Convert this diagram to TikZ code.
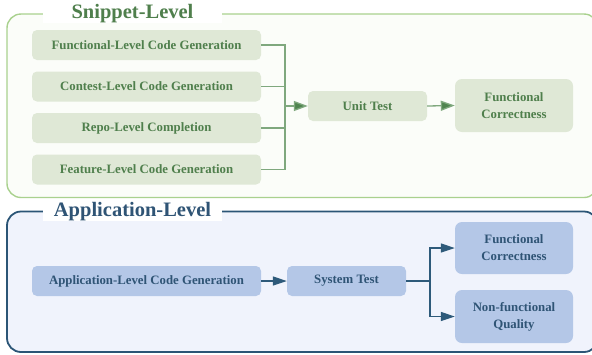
\documentclass[tikz,border=0pt]{standalone}
\usepackage{fontspec}
\newfontfamily\tnrb{LiberationSerif}[Extension=.ttf, UprightFont=*-Bold]
\usetikzlibrary{arrows.meta}
\definecolor{gborder}{HTML}{A9D18E}
\definecolor{gfill}{HTML}{FBFDF9}
\definecolor{gbox}{HTML}{DFE8D6}
\definecolor{gtext}{HTML}{4F7F4C}
\definecolor{gline}{HTML}{7FA87E}
\definecolor{gtip}{HTML}{4F844F}
\definecolor{bborder}{HTML}{2B5576}
\definecolor{bfill}{HTML}{F0F3FC}
\definecolor{bbox}{HTML}{B4C7E7}
\definecolor{btext}{HTML}{2F5475}
\definecolor{bline}{HTML}{2E5A7A}
\tikzset{
  gbx/.style={fill=gbox, rounded corners=5pt, text=gtext, font=\tnrb\fontsize{12.8}{17}\selectfont, align=center, inner sep=0pt},
  bbx/.style={fill=bbox, rounded corners=5pt, text=btext, font=\tnrb\fontsize{12.8}{17}\selectfont, align=center, inner sep=0pt},
  gconn/.style={draw=gline, line width=1.3pt},
  garrow/.style={draw=gline, line width=1.3pt, -{Triangle[length=14pt,width=10pt,fill=gtip]}},
  bconn/.style={draw=bline, line width=1.2pt},
  barrow/.style={draw=bline, line width=1.2pt, -{Triangle[length=14pt,width=9pt,fill=bline]}},
  titlebox/.style={fill=white, font=\tnrb\fontsize{20.5}{24}\selectfont, minimum width=179pt, minimum height=16pt, inner sep=0pt}
}
\begin{document}
\begin{tikzpicture}[x=1pt,y=-1pt]
\useasboundingbox (0,0) rectangle (592,354);
\clip (0,0) rectangle (592,354);
% outer frames
\draw[draw=gborder, fill=gfill, line width=1.4pt, rounded corners=14pt] (7,14) rectangle (598,197.5);
\draw[draw=bborder, fill=bfill, line width=1.8pt, rounded corners=14pt] (7,211.5) rectangle (598,352);
\node[titlebox, text=gtext] (t1) at (132.5,14) {Snippet-Level};
\node[titlebox, text=btext] (t2) at (132.5,211.5) {Application-Level};
% top nodes
\node[gbx, minimum width=229pt, minimum height=30pt] (f1) at (146.5,45) {Functional-Level Code Generation};
\node[gbx, minimum width=229pt, minimum height=30pt] (f2) at (146.5,86.5) {Contest-Level Code Generation};
\node[gbx, minimum width=229pt, minimum height=30pt] (f3) at (146.5,128) {Repo-Level Completion};
\node[gbx, minimum width=229pt, minimum height=30pt] (f4) at (146.5,169.5) {Feature-Level Code Generation};
\node[gbx, minimum width=119pt, minimum height=30pt] (ut) at (367.5,106) {Unit Test};
\node[gbx, rounded corners=7pt, minimum width=118pt, minimum height=53pt] (fc1) at (514,105.5) {Functional\\Correctness};
\coordinate (bus) at (285,106);
\draw[gconn] (f1.east) -| (bus);
\draw[gconn] (f2.east) -| (bus);
\draw[gconn] (f3.east) -| (bus);
\draw[gconn] (f4.east) -| (bus);
\draw[garrow] (bus) -- (ut.west);
\draw[garrow] (ut.east) -- (fc1.west);
% bottom nodes
\node[bbx, minimum width=229pt, minimum height=30pt] (ap) at (146.5,281) {Application-Level Code Generation};
\node[bbx, minimum width=119pt, minimum height=30pt] (st) at (346.5,281) {System Test};
\node[bbx, rounded corners=7pt, minimum width=118pt, minimum height=52pt] (fc2) at (514,248) {Functional\\Correctness};
\node[bbx, rounded corners=7pt, minimum width=118pt, minimum height=53pt] (nq) at (514,316.5) {Non-functional\\Quality};
\coordinate (br) at (430,281);
\draw[barrow] (ap.east) -- (st.west);
\draw[bconn] (st.east) -- (br);
\draw[barrow] (br) |- (fc2.west);
\draw[barrow] (br) |- (nq.west);
\end{tikzpicture}
\end{document}
